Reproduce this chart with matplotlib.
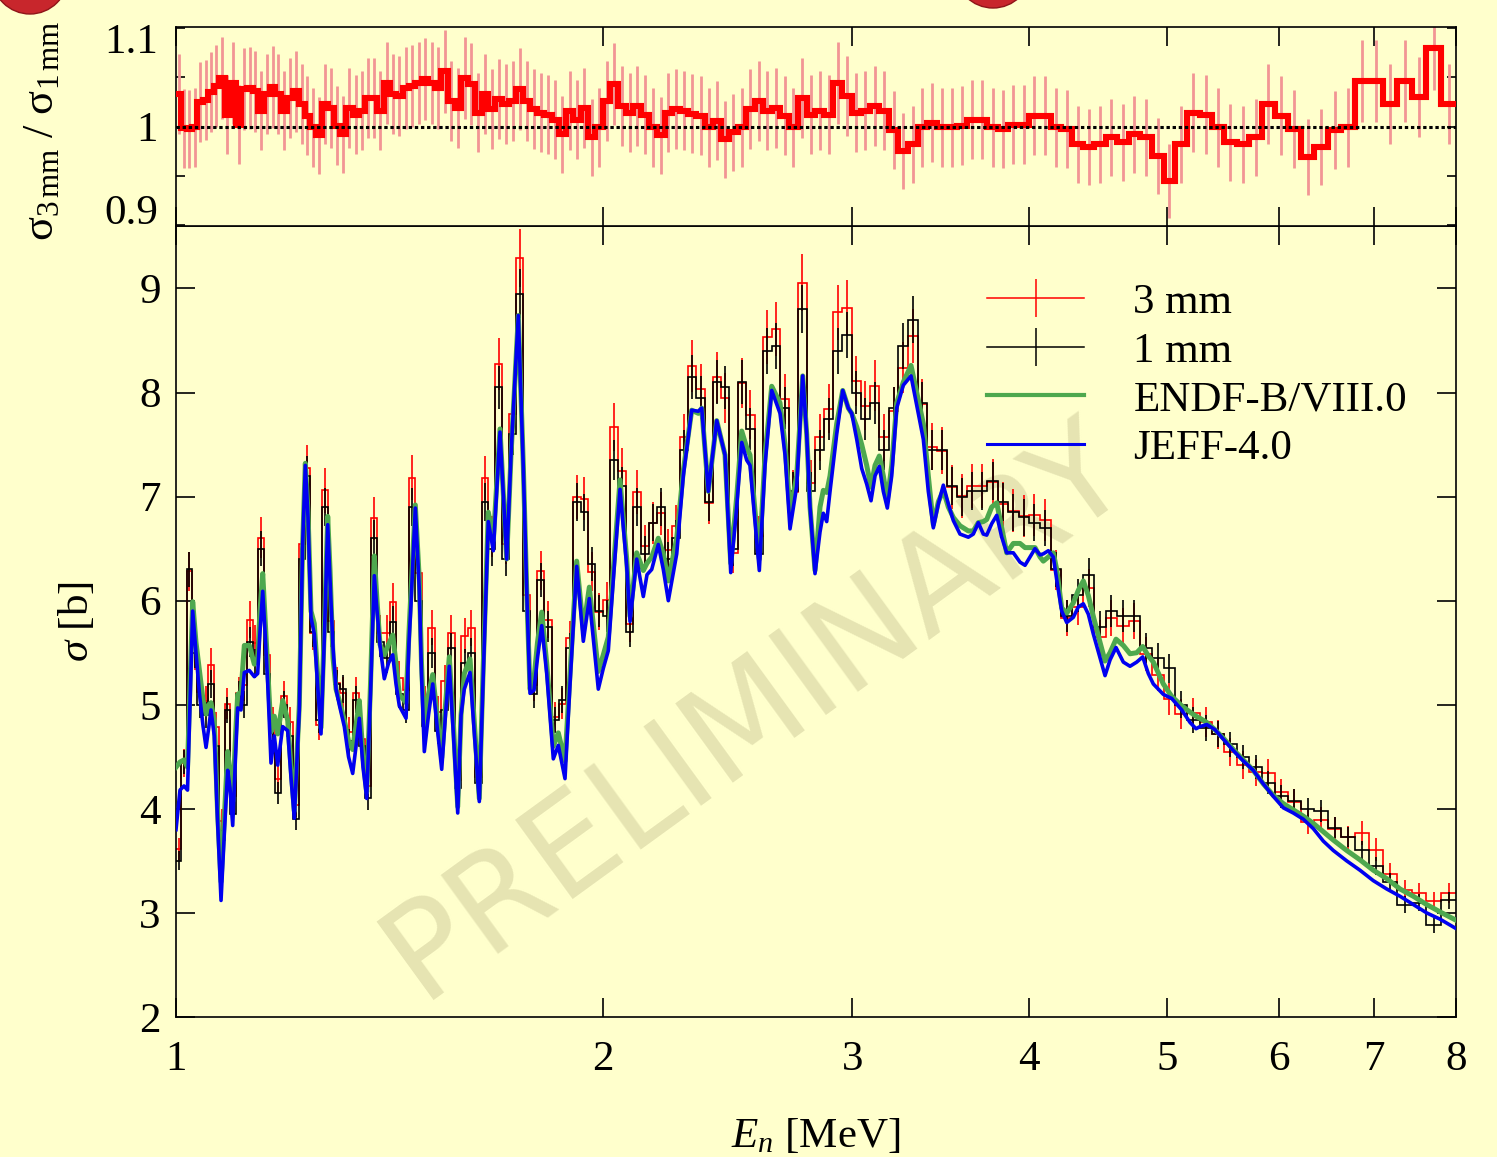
import numpy as np
import matplotlib
matplotlib.use("Agg")
import matplotlib.pyplot as plt
from matplotlib.lines import Line2D
from matplotlib.patches import Ellipse
from matplotlib.transforms import ScaledTranslation
from matplotlib.ticker import FixedLocator, FixedFormatter, NullLocator

plt.rcParams['font.family'] = ['Liberation Serif', 'DejaVu Serif']
plt.rcParams['mathtext.fontset'] = 'custom'
plt.rcParams['mathtext.rm'] = 'Liberation Serif'
plt.rcParams['mathtext.it'] = 'Liberation Serif:italic'

# ---------------- evaluated cross sections (MeV, barn) ----------------
E_EVAL = [
    1.0000, 1.0065, 1.0131, 1.0189, 1.0230, 1.0275, 1.0330, 1.0386, 1.0448, 1.0500,
    1.0551, 1.0585, 1.0642, 1.0697, 1.0759, 1.0820, 1.0876, 1.0917, 1.0965, 1.1015,
    1.1054, 1.1114, 1.1174, 1.1265, 1.1357, 1.1419, 1.1462, 1.1513, 1.1556, 1.1607,
    1.1669, 1.1732, 1.1797, 1.1893, 1.1990, 1.2054, 1.2119, 1.2218, 1.2282, 1.2338,
    1.2392, 1.2452, 1.2519, 1.2585, 1.2656, 1.2729, 1.2795, 1.2843, 1.2906, 1.2969,
    1.3038, 1.3145, 1.3235, 1.3325, 1.3397, 1.3469, 1.3550, 1.3632, 1.3716, 1.3801,
    1.3862, 1.3929, 1.4027, 1.4123, 1.4220, 1.4296, 1.4373, 1.4531, 1.4601, 1.4649,
    1.4752, 1.4848, 1.4901, 1.4969, 1.5071, 1.5175, 1.5281, 1.5398, 1.5493, 1.5589,
    1.5696, 1.5804, 1.5889, 1.5974, 1.6123, 1.6241, 1.6368, 1.6475, 1.6609, 1.6745,
    1.6928, 1.7113, 1.7233, 1.7439, 1.7581, 1.7687, 1.7773, 1.7889, 1.7991, 1.8114,
    1.8262, 1.8459, 1.8609, 1.8813, 1.8967, 1.9174, 1.9381, 1.9571, 1.9859, 2.0021,
    2.0184, 2.0349, 2.0572, 2.0797, 2.0909, 2.1137, 2.1365, 2.1494, 2.1659, 2.1892,
    2.2071, 2.2251, 2.2557, 2.2800, 2.3113, 2.3362, 2.3492, 2.3745, 2.4071, 2.4398,
    2.4625, 2.4866, 2.5069, 2.5273, 2.5409, 2.5796, 2.6036, 2.6321, 2.6678, 2.6896,
    2.7115, 2.7412, 2.7680, 2.7861, 2.8011, 2.8239, 2.8469, 2.8622, 2.8781, 2.8936,
    2.9252, 2.9539, 2.9809, 2.9974, 3.0219, 3.0465, 3.0713, 3.0929, 3.1131, 3.1349,
    3.1553, 3.1759, 3.1987, 3.2247, 3.2595, 3.3005, 3.3312, 3.3672, 3.3946, 3.4223,
    3.4502, 3.4784, 3.5067, 3.5353, 3.5740, 3.6225, 3.6521, 3.6819, 3.7119, 3.7324,
    3.7629, 3.7936, 3.8245, 3.8557, 3.8973, 3.9399, 3.9721, 4.0045, 4.0371, 4.0701,
    4.0919, 4.1253, 4.1589, 4.1820, 4.2161, 4.2505, 4.2963, 4.3313, 4.3667, 4.4023,
    4.4382, 4.4868, 4.5234, 4.5602, 4.6049, 4.6599, 4.7109, 4.7624, 4.8090, 4.8530,
    4.8926, 4.9727, 5.0411, 5.1236, 5.1932, 5.2440, 5.2782, 5.3360, 5.4084, 5.4818,
    5.5716, 5.6629, 5.7556, 5.8499, 5.9457, 6.0431, 6.1420, 6.2427, 6.3449, 6.4488,
    6.5544, 6.6987, 6.8450, 6.9945, 7.1484, 7.3046, 7.4641, 7.6284, 7.7951, 8.0000,
]
SIGMA_JEFF = [
    3.80, 4.18, 4.22, 4.18, 5.00, 5.90, 5.50, 5.12, 4.80, 4.59,
    4.80, 4.95, 4.70, 3.90, 3.12, 3.80, 4.37, 4.20, 3.84, 4.50,
    4.97, 4.95, 5.31, 5.33, 5.27, 5.30, 5.70, 6.09, 5.70, 5.20,
    4.44, 4.70, 4.42, 4.79, 4.75, 4.30, 3.91, 4.95, 6.50, 7.30,
    6.80, 5.84, 5.68, 5.20, 4.72, 5.70, 6.73, 6.20, 5.55, 5.15,
    5.00, 4.79, 4.50, 4.34, 4.60, 4.87, 4.40, 4.10, 5.10, 6.24,
    5.90, 5.57, 5.25, 5.40, 5.48, 5.20, 4.99, 4.87, 5.60, 5.97,
    6.89, 6.10, 5.30, 4.55, 4.90, 5.20, 4.80, 4.38, 4.90, 5.37,
    4.70, 3.96, 4.90, 5.15, 5.31, 4.70, 4.07, 5.30, 6.76, 6.48,
    7.62, 6.40, 7.40, 8.74, 7.28, 6.00, 5.11, 5.14, 5.45, 5.76,
    5.30, 4.48, 4.61, 4.29, 5.20, 6.33, 5.61, 6.02, 5.15, 5.35,
    5.52, 6.20, 7.07, 6.33, 5.80, 6.40, 6.04, 6.25, 6.30, 6.54,
    6.30, 6.00, 6.45, 7.20, 7.83, 7.82, 7.85, 7.05, 7.73, 7.40,
    6.27, 6.90, 7.52, 7.35, 7.30, 6.29, 7.30, 8.02, 7.80, 7.40,
    6.69, 7.10, 8.16, 7.60, 6.90, 6.26, 6.66, 6.84, 6.76, 7.05,
    7.60, 8.02, 7.85, 7.80, 7.55, 7.27, 7.12, 6.96, 7.20, 7.29,
    7.05, 6.89, 7.20, 7.85, 8.07, 8.16, 7.88, 7.55, 7.05, 6.70,
    6.93, 7.11, 6.93, 6.77, 6.64, 6.61, 6.64, 6.75, 6.64, 6.63,
    6.74, 6.82, 6.61, 6.46, 6.46, 6.37, 6.34, 6.42, 6.50, 6.44,
    6.45, 6.48, 6.42, 6.20, 5.90, 5.79, 5.84, 5.94, 5.97, 5.87,
    5.68, 5.45, 5.28, 5.43, 5.55, 5.41, 5.37, 5.41, 5.46, 5.30,
    5.20, 5.10, 5.06, 4.95, 4.83, 4.77, 4.79, 4.81, 4.76, 4.67,
    4.56, 4.46, 4.37, 4.24, 4.12, 4.01, 3.96, 3.90, 3.81, 3.69,
    3.60, 3.50, 3.41, 3.31, 3.23, 3.16, 3.08, 3.00, 2.94, 2.85,
]
SIGMA_ENDF = [
    4.40, 4.45, 4.47, 4.40, 5.20, 5.99, 5.60, 5.34, 5.05, 4.91,
    5.00, 5.02, 4.85, 4.00, 3.30, 3.95, 4.55, 4.35, 4.07, 4.70,
    5.10, 5.12, 5.57, 5.57, 5.39, 5.45, 5.90, 6.26, 5.85, 5.35,
    4.74, 4.89, 4.72, 5.04, 4.85, 4.40, 3.98, 5.00, 6.50, 7.32,
    6.85, 5.90, 5.78, 5.30, 4.78, 5.80, 6.81, 6.30, 5.45, 5.15,
    5.04, 4.85, 4.65, 4.57, 4.80, 5.04, 4.50, 4.16, 5.20, 6.43,
    6.00, 5.58, 5.48, 5.58, 5.67, 5.40, 5.10, 5.02, 5.70, 6.10,
    6.92, 6.20, 5.40, 4.78, 5.10, 5.29, 4.90, 4.49, 5.00, 5.46,
    4.80, 4.02, 4.90, 5.30, 5.44, 4.80, 4.10, 5.40, 6.85, 6.58,
    7.65, 6.40, 7.40, 8.74, 7.30, 6.00, 5.15, 5.25, 5.60, 5.89,
    5.40, 4.60, 4.73, 4.46, 5.30, 6.38, 5.72, 6.13, 5.32, 5.48,
    5.65, 6.30, 7.16, 6.40, 5.85, 6.46, 6.29, 6.36, 6.42, 6.60,
    6.45, 6.19, 6.60, 7.25, 7.83, 7.80, 7.85, 7.05, 7.73, 7.40,
    6.36, 7.00, 7.63, 7.47, 7.40, 6.40, 7.40, 8.06, 7.90, 7.50,
    6.85, 7.20, 8.16, 7.60, 6.90, 6.29, 6.90, 7.06, 7.04, 7.20,
    7.70, 8.02, 7.85, 7.80, 7.67, 7.50, 7.30, 7.09, 7.30, 7.39,
    7.20, 6.97, 7.30, 7.90, 8.10, 8.26, 8.00, 7.70, 7.20, 6.73,
    6.95, 7.06, 6.90, 6.80, 6.72, 6.67, 6.67, 6.75, 6.76, 6.78,
    6.90, 6.94, 6.70, 6.46, 6.55, 6.55, 6.51, 6.51, 6.51, 6.42,
    6.38, 6.42, 6.46, 6.30, 5.93, 5.88, 5.98, 6.10, 6.19, 6.05,
    5.85, 5.60, 5.42, 5.50, 5.63, 5.57, 5.49, 5.50, 5.56, 5.47,
    5.41, 5.20, 5.08, 4.99, 4.93, 4.89, 4.87, 4.83, 4.76, 4.68,
    4.57, 4.47, 4.37, 4.24, 4.13, 4.05, 3.99, 3.93, 3.86, 3.78,
    3.70, 3.60, 3.51, 3.41, 3.33, 3.23, 3.16, 3.08, 3.01, 2.93,
]

# ---------------- measured data: time-of-flight bins from 1 to 8 MeV ----------------
E_MIN, E_MAX, N_BINS = 1.0, 8.0, 150
SIGMA_1MM = [
    3.50, 4.45, 6.30, 5.50, 5.00, 4.90, 5.20, 4.60, 3.70, 4.95,
    3.95, 5.10, 5.00, 5.60, 5.40, 6.50, 5.30, 4.65, 4.15, 5.00,
    4.70, 3.90, 6.40, 7.20, 5.70, 4.85, 6.90, 5.70, 5.20, 5.15,
    4.65, 5.05, 4.60, 4.10, 6.60, 5.60, 5.45, 5.80, 5.10, 4.95,
    6.90, 6.00, 4.80, 5.50, 4.75, 4.95, 5.55, 4.20, 5.40, 5.50,
    4.25, 6.95, 6.50, 8.05, 6.40, 7.60, 8.95, 5.90, 5.10, 6.20,
    5.75, 4.85, 5.05, 5.55, 6.95, 6.85, 6.35, 5.90, 5.85, 7.35,
    7.10, 5.70, 6.90, 6.45, 6.75, 6.90, 6.40, 6.60, 7.45, 8.15,
    7.95, 6.95, 8.10, 8.05, 6.50, 8.10, 7.65, 6.45, 8.40, 8.45,
    7.85, 7.05, 8.80, 7.05, 7.45, 7.75, 8.40, 8.55, 8.00, 7.75,
    7.90, 7.45, 7.85, 8.45, 8.70, 7.90, 7.45, 7.45, 7.10, 7.00,
    7.05, 7.05, 7.15, 6.95, 6.85, 6.80, 6.75, 6.70, 6.30, 5.85,
    6.05, 6.25, 5.75, 5.90, 5.85, 5.85, 5.55, 5.45, 5.35, 5.00,
    4.85, 4.78, 4.72, 4.62, 4.50, 4.40, 4.25, 4.12, 4.08, 4.00,
    3.98, 3.82, 3.73, 3.60, 3.45, 3.30, 3.08, 3.10, 2.88, 3.12,
]
RATIO_3MM_1MM = [
    1.033, 0.998, 0.997, 0.999, 1.025, 1.027, 1.035, 1.041, 1.049, 1.012,
    1.044, 1.002, 1.038, 1.039, 1.036, 1.016, 1.033, 1.040, 1.033, 1.016,
    1.029, 1.036, 1.023, 1.011, 0.999, 0.991, 1.023, 1.019, 1.001, 0.992,
    1.019, 1.012, 1.016, 1.029, 1.029, 1.016, 1.044, 1.033, 1.031, 1.039,
    1.041, 1.044, 1.048, 1.044, 1.039, 1.056, 1.026, 1.019, 1.049, 1.043,
    1.014, 1.033, 1.018, 1.028, 1.023, 1.026, 1.038, 1.026, 1.018, 1.014,
    1.012, 1.007, 0.992, 1.016, 1.007, 1.019, 0.989, 0.999, 1.026, 1.043,
    1.021, 1.014, 1.021, 1.012, 0.999, 0.991, 1.014, 1.018, 1.016, 1.013,
    1.011, 0.999, 1.006, 0.987, 0.994, 0.999, 1.018, 1.026, 1.016, 1.019,
    1.011, 0.999, 1.029, 1.012, 1.016, 1.012, 1.044, 1.031, 1.014, 1.016,
    1.021, 1.016, 0.996, 0.975, 0.982, 0.999, 1.004, 0.999, 0.999, 1.001,
    1.007, 1.007, 0.999, 0.997, 1.002, 1.002, 1.011, 1.011, 0.999, 0.997,
    0.982, 0.979, 0.982, 0.989, 0.984, 0.992, 0.989, 0.970, 0.945, 0.982,
    1.014, 1.012, 0.999, 0.984, 0.982, 0.989, 1.023, 1.011, 0.997, 0.969,
    0.979, 0.996, 0.999, 1.046, 1.046, 1.023, 1.046, 1.030, 1.080, 1.023,
]
REL_ERR_1MM = 0.026
REL_ERR_3MM = 0.030

X_TICKS = [1, 2, 3, 4, 5, 6, 7, 8]
X_TICK_LABELS = ['1', '2', '3', '4', '5', '6', '7', '8']
Y_TICKS = [2, 3, 4, 5, 6, 7, 8, 9]
R_TICKS = [0.9, 1.0, 1.1]
R_TICK_LABELS = ['0.9', '1', '1.1']
R_MINOR = [0.95, 1.05]
LABELS = ['3 mm', '1 mm', 'ENDF-B/VIII.0', 'JEFF-4.0']

# ---------------- derived ----------------
tof = np.linspace(1 / np.sqrt(E_MIN), 1 / np.sqrt(E_MAX), N_BINS + 1)
edges = 1.0 / tof ** 2
centers = 1.0 / (0.5 * (tof[:-1] + tof[1:])) ** 2
s1 = np.array(SIGMA_1MM)
ratio = np.array(RATIO_3MM_1MM)
s3 = s1 * ratio
ratio_err = ratio * np.hypot(REL_ERR_1MM, REL_ERR_3MM)

BG = '#FFFFCC'
RED = '#FF0000'
GREEN = '#4EA84E'
BLUE = '#0000F0'

W, H = 1497, 1157
fig = plt.figure(figsize=(W / 100, H / 100), dpi=100)
fig.patch.set_facecolor(BG)
L, R = 176 / W, 1456 / W
ax = fig.add_axes([L, 1 - 1017 / H, R - L, (1017 - 226) / H])
axr = fig.add_axes([L, 1 - 226 / H, R - L, (226 - 27) / H], sharex=ax)
for a in (ax, axr):
    a.set_facecolor(BG)
    for sp in a.spines.values():
        sp.set_linewidth(1.2)

# decorative slide circles at the top edge
for cx, cy, rr in [(30, -24, 38), (993, -30, 38)]:
    fig.add_artist(Ellipse((cx / W, 1 - cy / H), 2 * rr / W, 2 * rr / H,
                           transform=fig.transFigure, facecolor='#C8262C',
                           edgecolor='#8E1418', lw=1.0, clip_on=False))

# watermark
ax.text(0.453, 0.388, 'PRELIMINARY', transform=ax.transAxes, fontsize=96,
        family='DejaVu Sans', color='#E6E4B2', rotation=36, ha='center',
        va='center', zorder=0.5)

# main panel
ax.stairs(s3, edges, baseline=None, color=RED, lw=1.2, zorder=2)
ax.errorbar(centers, s3, yerr=s3 * REL_ERR_3MM, fmt='none', ecolor=RED,
            elinewidth=1.2, capsize=0, zorder=2)
ax.stairs(s1, edges, baseline=None, color='black', lw=1.2, zorder=3)
ax.errorbar(centers, s1, yerr=s1 * REL_ERR_1MM, fmt='none', ecolor='black',
            elinewidth=1.2, capsize=0, zorder=3)
ax.plot(E_EVAL, SIGMA_ENDF, color=GREEN, lw=3.6, zorder=4,
        solid_joinstyle='round')
ax.plot(E_EVAL, SIGMA_JEFF, color=BLUE, lw=2.6, zorder=5,
        solid_joinstyle='round')

ax.set_xscale('log')
ax.set_xlim(E_MIN, E_MAX)
ax.set_ylim(2, 9.6)
ax.xaxis.set_major_locator(FixedLocator(X_TICKS))
ax.xaxis.set_major_formatter(FixedFormatter(X_TICK_LABELS))
ax.xaxis.set_minor_locator(NullLocator())
ax.yaxis.set_major_locator(FixedLocator(Y_TICKS))
ax.yaxis.set_minor_locator(NullLocator())
ax.tick_params(axis='both', which='major', direction='in', length=14,
               width=1.2, top=True, right=True, labelsize=31)
ax.tick_params(axis='x', pad=17)
ax.tick_params(axis='y', pad=11)

ax.set_ylabel(r'$\sigma$ [b]', fontsize=31)
ax.yaxis.set_label_coords(-0.062, 0.5)
ax.set_xlabel(r'$E_n$ [MeV]', fontsize=31)
ax.xaxis.set_label_coords(0.5, -0.126)

handles = [
    Line2D([], [], color=RED, lw=1.1, marker='|', markersize=27, markeredgewidth=1.1),
    Line2D([], [], color='black', lw=1.1, marker='|', markersize=27, markeredgewidth=1.1),
    Line2D([], [], color=GREEN, lw=3.0),
    Line2D([], [], color=BLUE, lw=2.2),
]
ax.legend(handles, LABELS, loc='upper left', bbox_to_anchor=(0.6336, 0.928),
          frameon=False, fontsize=31, handlelength=2.26, handletextpad=1.14,
          labelspacing=0.22, borderpad=0, borderaxespad=0)

# ratio panel
axr.errorbar(centers, ratio, yerr=ratio_err, fmt='none', ecolor='#F29595',
             elinewidth=2.0, capsize=0, zorder=2)
axr.stairs(ratio, edges, baseline=None, color=RED, lw=4.4, zorder=3)
axr.axhline(1.0, color='black', lw=2.2, ls=(0, (1.1, 0.9)), zorder=4)
axr.set_ylim(0.899, 1.101)
axr.yaxis.set_major_locator(FixedLocator(R_TICKS))
axr.yaxis.set_major_formatter(FixedFormatter(R_TICK_LABELS))
axr.yaxis.set_minor_locator(FixedLocator(R_MINOR))
axr.tick_params(axis='x', which='major', direction='in', length=14, width=1.2,
                top=True, bottom=True, labelbottom=False)
axr.tick_params(axis='y', which='both', direction='in', length=6.5, width=1.2,
                left=True, right=True, labelsize=31, pad=13)
for lab, dy in zip(axr.get_yticklabels(), [16, 0, -10]):
    lab.set_transform(lab.get_transform() + ScaledTranslation(0, dy / 100, fig.dpi_scale_trans))
axr.set_ylabel(r'$\mathrm{σ_{3\,mm}\ /\ σ_{1\,mm}}$', fontsize=32)
axr.yaxis.set_label_coords(-0.089, 0.48)

fig.savefig('out.png', dpi=100, facecolor=BG)
